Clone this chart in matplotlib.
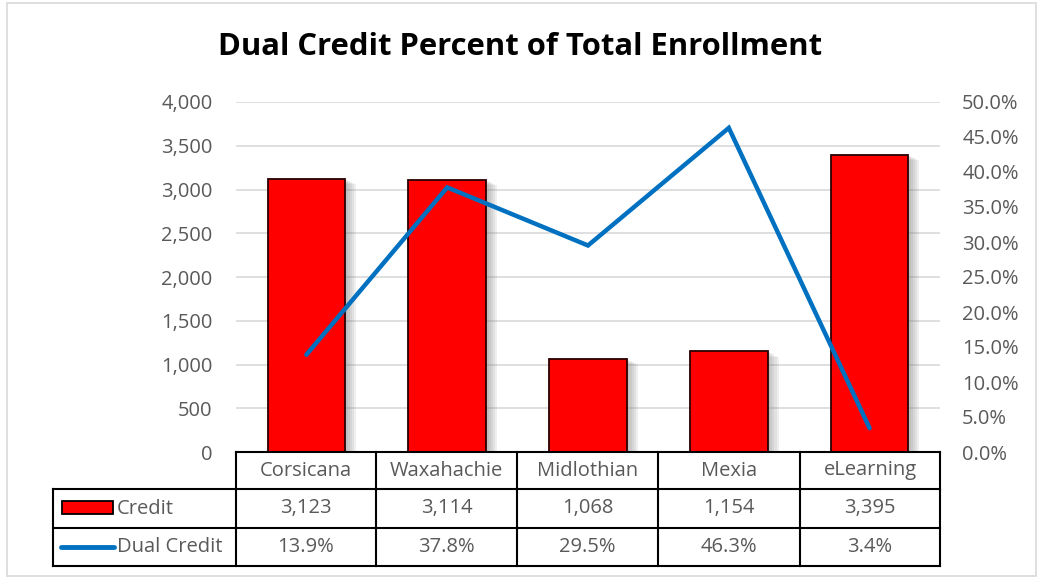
import matplotlib
matplotlib.use("Agg")
import matplotlib.pyplot as plt
import matplotlib.patheffects as pe
from matplotlib.patches import Rectangle
from matplotlib.lines import Line2D
from matplotlib.ticker import FuncFormatter, MultipleLocator

# Data
campuses = ["Corsicana", "Waxahachie", "Midlothian", "Mexia", "eLearning"]
credit = [3123, 3114, 1068, 1154, 3395]
dual_pct = [13.9, 37.8, 29.5, 46.3, 3.4]
series_names = ["Credit", "Dual Credit"]

W, H = 1041, 578
plt.rcParams["font.family"] = ["Open Sans", "DejaVu Sans"]
fig = plt.figure(figsize=(W / 100, H / 100), dpi=100)
fig.patch.set_facecolor("white")

def fx(px):
    return px / W

def fy(py):
    return 1 - py / H

# chart outer border
fig.add_artist(Rectangle((fx(7), fy(576)), fx(1036 - 7), (576 - 3) / H,
                         transform=fig.transFigure, fill=False,
                         edgecolor="#D9D9D9", linewidth=1.2))

ax = fig.add_axes([fx(236), fy(452), fx(940 - 236), (452 - 102) / H])
ax2 = ax.twinx()

text_col = "#595959"
fs = 14.5
x = list(range(len(campuses)))

# soft drop shadow built from stacked translucent offsets
shadow = [pe.SimplePatchShadow(offset=(o, -o * 0.5), shadow_rgbFace="#808080", alpha=0.12)
          for o in (8, 6.5, 5, 3.5, 2)]
ax.bar(x, credit, width=0.55, color="#FF0000", edgecolor="#2a0000", linewidth=1.3,
       zorder=3, path_effects=shadow + [pe.Normal()])
ax.set_xlim(-0.5, len(campuses) - 0.5)
ax.set_ylim(0, 4000)
ax.yaxis.set_major_locator(MultipleLocator(500))
ax.yaxis.set_major_formatter(FuncFormatter(lambda v, p: f"{int(v):,}"))
ax.grid(axis="y", color="#D9D9D9", linewidth=1.2, zorder=0)
ax.set_axisbelow(True)
ax.set_xticks([])

ax2.plot(x, dual_pct, color="#0070C0", linewidth=3.2, solid_capstyle="round",
         solid_joinstyle="miter", zorder=4)
ax2.set_ylim(0, 50)
ax2.yaxis.set_major_locator(MultipleLocator(5))
ax2.yaxis.set_major_formatter(FuncFormatter(lambda v, p: f"{v:.1f}%"))

for a in (ax, ax2):
    for s in a.spines.values():
        s.set_visible(False)
    a.tick_params(axis="y", length=0, labelsize=fs, labelcolor=text_col)
ax.tick_params(axis="y", pad=17)
ax2.tick_params(axis="y", pad=16)

fig.text(0.5, fy(47), "Dual Credit Percent of Total Enrollment", ha="center", va="center",
         fontsize=22.3, fontweight="bold", color="black")

# data table under the plot
col_edges = [236, 376, 517, 658, 800, 940]
row_edges = [452, 489, 528, 566]
left_edge = 53
lw = 1.5

def hline(y, x0, x1):
    fig.add_artist(Line2D([fx(x0), fx(x1)], [fy(y), fy(y)], color="black", linewidth=lw,
                          transform=fig.transFigure))

def vline(xp, y0, y1):
    fig.add_artist(Line2D([fx(xp), fx(xp)], [fy(y0), fy(y1)], color="black", linewidth=lw,
                          transform=fig.transFigure))

hline(row_edges[0], col_edges[0], col_edges[-1])
for r in row_edges[1:]:
    hline(r, left_edge, col_edges[-1])
for c in col_edges:
    vline(c, row_edges[0], row_edges[-1])
vline(left_edge, row_edges[1], row_edges[-1])

for i, name in enumerate(campuses):
    cx = (col_edges[i] + col_edges[i + 1]) / 2
    fig.text(fx(cx), fy((row_edges[0] + row_edges[1]) / 2), name, ha="center", va="center",
             fontsize=fs, color=text_col)
    fig.text(fx(cx), fy((row_edges[1] + row_edges[2]) / 2), f"{credit[i]:,}", ha="center",
             va="center", fontsize=fs, color=text_col)
    fig.text(fx(cx), fy((row_edges[2] + row_edges[3]) / 2), f"{dual_pct[i]:.1f}%", ha="center",
             va="center", fontsize=fs, color=text_col)

# legend keys inside the row label cells
ym1 = (row_edges[1] + row_edges[2]) / 2
fig.add_artist(Rectangle((fx(62), fy(514)), fx(113) - fx(62), 13 / H,
                         transform=fig.transFigure, facecolor="#FF0000",
                         edgecolor="black", linewidth=1.3))
fig.text(fx(117), fy(ym1), series_names[0], ha="left", va="center", fontsize=fs, color=text_col)
ym2 = (row_edges[2] + row_edges[3]) / 2
fig.add_artist(Line2D([fx(61), fx(114)], [fy(ym2), fy(ym2)], color="#0070C0", linewidth=3.5,
                      solid_capstyle="round", transform=fig.transFigure))
fig.text(fx(117), fy(ym2), series_names[1], ha="left", va="center", fontsize=fs, color=text_col)

fig.savefig("out.png", dpi=100, facecolor="white")
